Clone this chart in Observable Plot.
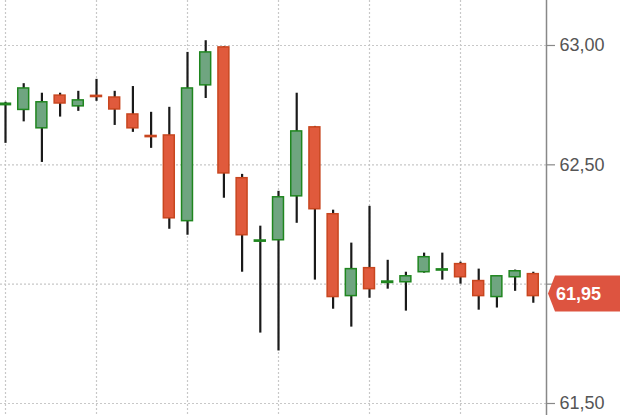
<!DOCTYPE html>
<html>
<head>
<meta charset="utf-8">
<script src="https://cdn.jsdelivr.net/npm/d3@7"></script>
<script src="https://cdn.jsdelivr.net/npm/@observablehq/plot@0.6"></script>
<style>
  html, body { margin: 0; padding: 0; background: #fff; }
  #chart svg { display: block; }
</style>
</head>
<body>
<div id="chart"></div>
<script>
const opens  = [62.75, 62.73, 62.653, 62.79, 62.745, 62.789, 62.782, 62.711, 62.621, 62.623,
                62.264, 62.833, 62.992, 62.444, 62.178, 62.184, 62.368, 62.657, 62.293, 61.95,
                62.067, 62.005, 62.008, 62.05, 62.057, 62.084, 62.013, 61.946, 62.029, 62.042];
const highs  = [62.762, 62.84, 62.80, 62.80, 62.808, 62.858, 62.808, 62.828, 62.72, 62.741,
                62.971, 63.02, 62.995, 62.46, 62.243, 62.389, 62.80, 62.661, 62.31, 62.172,
                62.326, 62.10, 62.05, 62.13, 62.13, 62.092, 62.063, 62.033, 62.059, 62.05];
const lows   = [62.59, 62.68, 62.51, 62.70, 62.724, 62.766, 62.665, 62.636, 62.569, 62.23,
                62.205, 62.778, 62.36, 62.05, 61.795, 61.72, 62.255, 62.017, 61.895, 61.82,
                61.941, 61.979, 61.887, 62.046, 62.017, 62.0, 61.891, 61.9, 61.97, 61.92];
const closes = [62.756, 62.82, 62.762, 62.757, 62.77, 62.784, 62.732, 62.653, 62.616, 62.276,
                62.82, 62.971, 62.464, 62.205, 62.183, 62.364, 62.64, 62.314, 61.946, 62.063,
                61.979, 62.011, 62.033, 62.113, 62.062, 62.029, 61.95, 62.033, 62.054, 61.95];
const yTicks = [61.5, 62.0, 62.5, 63.0];
const xGridEvery = 5;

const data = opens.map((o, i) => ({i, open: o, high: highs[i], low: lows[i], close: closes[i], up: closes[i] >= o}));
const last = data[data.length - 1];
const fmt = v => v.toFixed(2).replace(".", ",");
const xGrid = data.filter(d => d.i % xGridEvery === 0).map(d => d.i);

const GREEN_FILL = "#6fa580", GREEN_STROKE = "#1f861f";
const RED_FILL = "#e05a3c", RED_STROKE = "#c8461f";

const lastLabel = (index, scales, values, dims) => {
  const y = scales.y(last.close) - 2;
  const x0 = dims.width - dims.marginRight + 2;
  const x1 = dims.width;
  const h = 18;
  const g = d3.create("svg:g");
  g.append("path")
    .attr("d", `M${x0},${y} L${x0 + 7},${y - h} L${x1},${y - h} L${x1},${y + h} L${x0 + 7},${y + h} Z`)
    .attr("fill", "#dd5440");
  g.append("text")
    .attr("x", x0 + 8).attr("y", y).attr("dy", "0.36em")
    .attr("text-anchor", "start")
    .attr("fill", "#fff")
    .attr("font-size", 18).attr("font-weight", "bold")
    .attr("font-family", "Liberation Sans, Arial, sans-serif")
    .text(fmt(last.close));
  return g.node();
};

const chart = Plot.plot({
  width: 620,
  height: 415,
  marginLeft: 0,
  marginRight: 74,
  marginTop: 0,
  marginBottom: 0,
  style: {background: "#fff", fontFamily: "Liberation Sans, Arial, sans-serif"},
  x: {type: "linear", domain: [-0.275, 29.725], axis: null},
  y: {domain: [61.4497, 63.1885], axis: null},
  marks: [
    Plot.ruleX(xGrid, {stroke: "#c8c8c8", strokeWidth: 1.2, strokeDasharray: "2,2"}),
    Plot.ruleY(yTicks, {stroke: "#c8c8c8", strokeWidth: 1.2, strokeDasharray: "2,2"}),
    Plot.ruleX(data, {x: "i", y1: "low", y2: "high", stroke: "#1a1a1a", strokeWidth: 2.2}),
    Plot.rect(data, {
      x1: d => d.i - 0.3, x2: d => d.i + 0.3,
      y1: "open", y2: "close",
      fill: d => d.up ? GREEN_FILL : RED_FILL,
      stroke: d => d.up ? GREEN_STROKE : RED_STROKE,
      strokeWidth: 1.5
    }),
    Plot.axisY(yTicks, {
      anchor: "right", tickSize: 8, tickPadding: 5, fontSize: 18,
      tickFormat: fmt, color: "#555", stroke: "#888", strokeWidth: 1.2
    }),
    Plot.frame({anchor: "right", stroke: "#888", strokeWidth: 1.5}),
    lastLabel
  ]
});
document.getElementById("chart").appendChild(chart);
</script>
</body>
</html>
